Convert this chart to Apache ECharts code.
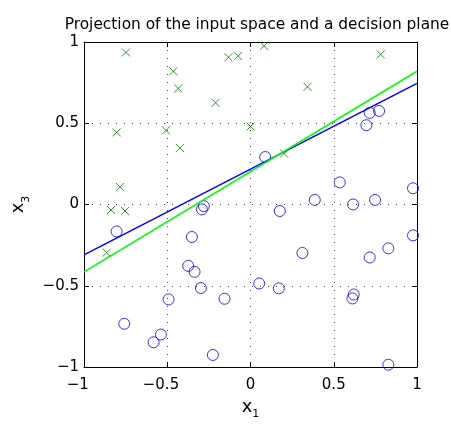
<!DOCTYPE html>
<html>
<head>
<meta charset="utf-8">
<script src="https://cdn.jsdelivr.net/npm/echarts@6/dist/echarts.min.js"></script>
<style>html,body{margin:0;padding:0;background:#fff}#c{width:451px;height:425px}</style>
</head>
<body>
<div id="c"></div>
<script>
// Class "x" markers (green crosses): x1 and x3 coordinates
const crossX = [-0.748, -0.464, -0.434, -0.21, -0.132, -0.074, 0.082, 0.782, 0.342, -0.804, -0.508, -0.424, 0.0, 0.202, -0.784, -0.838, -0.754, -0.864];
const crossY = [0.936, 0.82, 0.714, 0.626, 0.906, 0.914, 0.976, 0.924, 0.724, 0.444, 0.456, 0.348, 0.48, 0.314, 0.108, -0.034, -0.04, -0.296];
// Class "o" markers (blue circles)
const circleX = [0.088, 0.716, 0.772, 0.696, 0.536, 0.976, 0.386, 0.616, 0.748, 0.176, -0.804, -0.28, -0.292, -0.352, -0.374, -0.336, -0.298, -0.492, -0.156, -0.758, -0.538, -0.582, -0.226, 0.976, 0.828, 0.716, 0.312, 0.052, 0.17, 0.62, 0.612, 0.828];
const circleY = [0.292, 0.564, 0.576, 0.488, 0.136, 0.10, 0.028, 0.0, 0.028, -0.04, -0.166, -0.01, -0.03, -0.2, -0.378, -0.414, -0.514, -0.584, -0.58, -0.734, -0.8, -0.848, -0.926, -0.19, -0.27, -0.326, -0.298, -0.486, -0.516, -0.554, -0.578, -0.986];
// Decision lines: endpoints (x1, x3)
const blueLineX = [-1, 1];
const blueLineY = [-0.31, 0.745];
const greenLineX = [-1, 1];
const greenLineY = [-0.415, 0.82];
// Tick values
const xTicks = [-1, -0.5, 0, 0.5, 1];
const yTicks = [-1, -0.5, 0, 0.5, 1];

const titleText = 'Projection of the input space and a decision plane';
const FONT = 'DejaVu Sans';

function zip(a, b) { return a.map((v, i) => [v, b[i]]); }
function fmtX(v) {
  if (v < 0) return '\u2212' + Math.abs(v) + '{h|\u2212}';
  return String(v);
}
function fmtY(v) {
  if (v < 0) return '\u2212' + Math.abs(v);
  return String(v);
}

const chart = echarts.init(document.getElementById('c'), null, {renderer: 'canvas'});
const gridLine = {show: true, lineStyle: {color: '#444', width: 1, type: [1, 7]}};
const tickCommon = {show: true, inside: true, length: 5, lineStyle: {color: '#000', width: 1}};
const axisLineCommon = {show: true, onZero: false, lineStyle: {color: '#000', width: 1}};
const labelCommon = {fontFamily: FONT, fontSize: 15, color: '#000'};

chart.setOption({
  animation: false,
  backgroundColor: '#fff',
  title: {
    text: titleText, left: 252, textAlign: 'center', top: 12,
    textStyle: {fontFamily: FONT, fontSize: 15.4, fontWeight: 'normal', color: '#000'}
  },
  grid: {left: 84, top: 42, width: 333, height: 333, show: false},
  xAxis: [
    {
      type: 'value', min: -1, max: 1, interval: 0.5, position: 'bottom',
      axisLine: axisLineCommon, axisTick: tickCommon,
      axisLabel: Object.assign({}, labelCommon, {margin: 11, formatter: fmtX, rich: {h: {color: 'rgba(0,0,0,0)', fontFamily: FONT, fontSize: 15}}}),
      splitLine: gridLine,
      name: '{b|x}{s|1}', nameLocation: 'middle', nameGap: 31,
      nameTextStyle: {rich: {
        b: {fontFamily: FONT, fontSize: 18, color: '#000', verticalAlign: 'top', lineHeight: 22},
        s: {fontFamily: FONT, fontSize: 11, color: '#000', verticalAlign: 'bottom', lineHeight: 22}
      }}
    },
    {
      type: 'value', min: -1, max: 1, interval: 0.5, position: 'top',
      axisLine: axisLineCommon, axisTick: tickCommon,
      axisLabel: {show: false}, splitLine: {show: false}
    }
  ],
  yAxis: [
    {
      type: 'value', min: -1, max: 1, interval: 0.5, position: 'left',
      axisLine: axisLineCommon, axisTick: tickCommon,
      axisLabel: Object.assign({}, labelCommon, {margin: 5, formatter: fmtY}),
      splitLine: gridLine,
      name: '{b|x}{s|3}', nameLocation: 'middle', nameGap: 50, nameRotate: 90,
      nameTextStyle: {rich: {
        b: {fontFamily: FONT, fontSize: 18, color: '#000', verticalAlign: 'top', lineHeight: 22},
        s: {fontFamily: FONT, fontSize: 11, color: '#000', verticalAlign: 'bottom', lineHeight: 22}
      }}
    },
    {
      type: 'value', min: -1, max: 1, interval: 0.5, position: 'right',
      axisLine: axisLineCommon, axisTick: tickCommon,
      axisLabel: {show: false}, splitLine: {show: false}
    }
  ],
  series: [
    {
      type: 'scatter', xAxisIndex: 0, yAxisIndex: 0, silent: true,
      data: zip(crossX, crossY),
      symbol: 'path://M0,0L10,10M10,0L0,10', symbolSize: 8,
      itemStyle: {color: 'none', borderColor: '#008000', borderWidth: 1}
    },
    {
      type: 'scatter', xAxisIndex: 0, yAxisIndex: 0, silent: true,
      data: zip(circleX, circleY),
      symbol: 'circle', symbolSize: 11,
      itemStyle: {color: 'none', borderColor: '#0000ff', borderWidth: 1}
    },
    {
      type: 'line', xAxisIndex: 0, yAxisIndex: 0, silent: true, showSymbol: false,
      data: zip(blueLineX, blueLineY),
      lineStyle: {color: '#0000ff', width: 1.5}
    },
    {
      type: 'line', xAxisIndex: 0, yAxisIndex: 0, silent: true, showSymbol: false,
      data: zip(greenLineX, greenLineY),
      lineStyle: {color: '#00ff00', width: 1.5}
    }
  ]
});
</script>
</body>
</html>
